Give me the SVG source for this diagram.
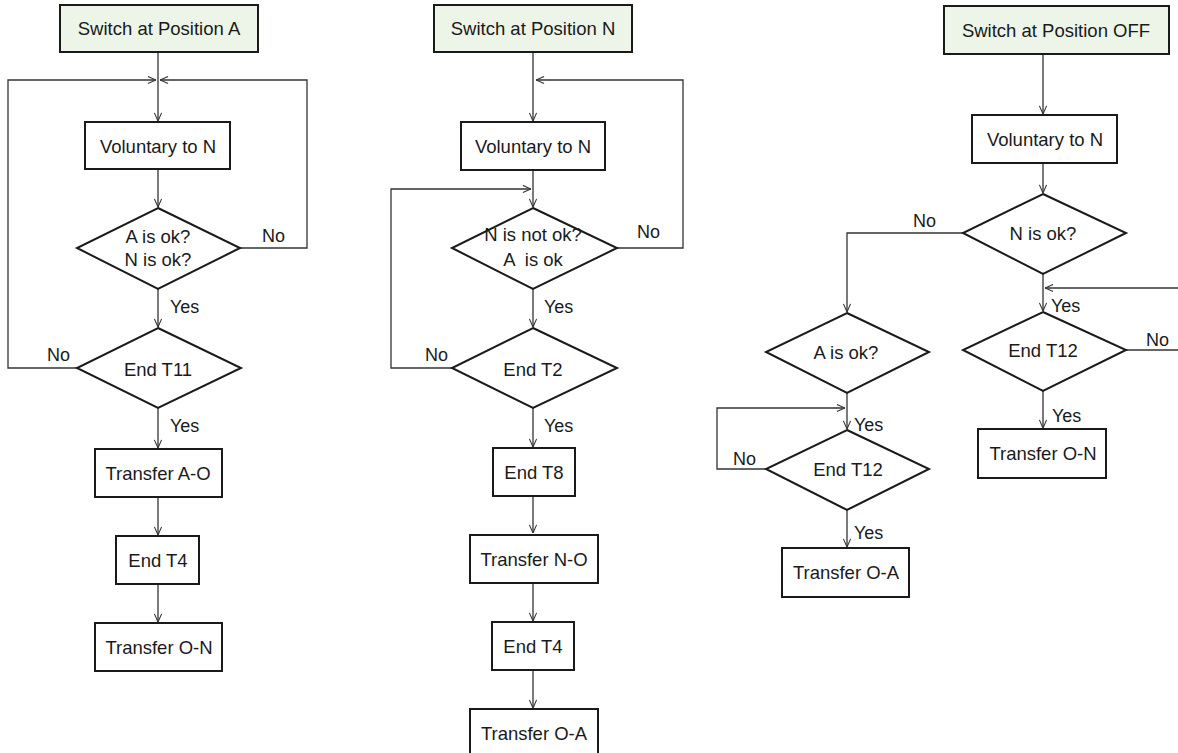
<svg xmlns="http://www.w3.org/2000/svg" width="1178" height="753" viewBox="0 0 1178 753">
<style>
.box{fill:#fff;stroke:#1a1a1a;stroke-width:2}
.start{fill:#edf5e8;stroke:#1a1a1a;stroke-width:2}
.dia{fill:#fff;stroke:#1a1a1a;stroke-width:2}
.t{font-family:"Liberation Sans",Arial,sans-serif;font-size:18.5px;fill:#1a1a1a;text-anchor:middle}
.l{font-family:"Liberation Sans",Arial,sans-serif;font-size:18px;fill:#1a1a1a}
.c{fill:none;stroke:#333;stroke-width:1.3}
</style>
<defs>
<marker id="arr" viewBox="0 0 10 10" refX="10" refY="5" markerWidth="9" markerHeight="9" markerUnits="userSpaceOnUse" orient="auto">
<path d="M1,1 L10,5 L1,9" fill="none" stroke="#333" stroke-width="1.2"/>
</marker>
</defs>
<rect width="1178" height="753" fill="#fff"/>
<g id="connectors">
<!-- column A -->
<path class="c" d="M158,52 V121" marker-end="url(#arr)"/>
<path class="c" d="M158,169 V207" marker-end="url(#arr)"/>
<path class="c" d="M158,289 V327" marker-end="url(#arr)"/>
<path class="c" d="M158,408 V448" marker-end="url(#arr)"/>
<path class="c" d="M158,497 V535" marker-end="url(#arr)"/>
<path class="c" d="M158,584 V622" marker-end="url(#arr)"/>
<path class="c" d="M240,248 H307 V80 H160" marker-end="url(#arr)"/>
<path class="c" d="M77,368 H8 V80 H156" marker-end="url(#arr)"/>
<!-- column N -->
<path class="c" d="M533,52 V121" marker-end="url(#arr)"/>
<path class="c" d="M533,170 V207" marker-end="url(#arr)"/>
<path class="c" d="M533,289 V327" marker-end="url(#arr)"/>
<path class="c" d="M533,408 V447" marker-end="url(#arr)"/>
<path class="c" d="M533,496 V533" marker-end="url(#arr)"/>
<path class="c" d="M533,583 V621" marker-end="url(#arr)"/>
<path class="c" d="M533,670 V708" marker-end="url(#arr)"/>
<path class="c" d="M617,248 H683 V80 H536" marker-end="url(#arr)"/>
<path class="c" d="M452,368 H391 V189 H531" marker-end="url(#arr)"/>
<!-- column OFF -->
<path class="c" d="M1043,54 V114" marker-end="url(#arr)"/>
<path class="c" d="M1043,163 V193" marker-end="url(#arr)"/>
<path class="c" d="M963,233 H847 V312" marker-end="url(#arr)"/>
<path class="c" d="M847,393 V429" marker-end="url(#arr)"/>
<path class="c" d="M766,469 H717 V408 H845" marker-end="url(#arr)"/>
<path class="c" d="M847,510 V547" marker-end="url(#arr)"/>
<path class="c" d="M1043,274 V311" marker-end="url(#arr)"/>
<path class="c" d="M1180,288 H1045" marker-end="url(#arr)"/>
<path class="c" d="M1126,350 H1180"/>
<path class="c" d="M1043,391 V428" marker-end="url(#arr)"/>
</g>
<g id="labels">
<text class="l" x="262" y="242">No</text>
<text class="l" x="170" y="313">Yes</text>
<text class="l" x="47" y="361">No</text>
<text class="l" x="170" y="432">Yes</text>
<text class="l" x="637" y="238">No</text>
<text class="l" x="544" y="313">Yes</text>
<text class="l" x="425" y="361">No</text>
<text class="l" x="544" y="432">Yes</text>
<text class="l" x="913" y="227">No</text>
<text class="l" x="1051" y="312">Yes</text>
<text class="l" x="1146" y="346">No</text>
<text class="l" x="1052" y="422">Yes</text>
<text class="l" x="854" y="431">Yes</text>
<text class="l" x="733" y="465">No</text>
<text class="l" x="854" y="539">Yes</text>
</g>
<!-- Column A nodes -->
<g id="startA"><rect class="start" x="60" y="5" width="198" height="47"/><text class="t" x="159" y="35">Switch at Position A</text></g>
<g id="volA"><rect class="box" x="85" y="122" width="145" height="47"/><text class="t" x="158" y="153">Voluntary to N</text></g>
<g id="decA1"><polygon class="dia" points="158,208 240,248 158,289 77,248"/><text class="t" x="158" y="243">A is ok?</text><text class="t" x="158" y="266">N is ok?</text></g>
<g id="decA2"><polygon class="dia" points="158,328 241,368 158,408 77,368"/><text class="t" x="158" y="376">End T11</text></g>
<g id="transAO"><rect class="box" x="95" y="449" width="127" height="48"/><text class="t" x="158" y="480">Transfer A-O</text></g>
<g id="endT4A"><rect class="box" x="116" y="536" width="83" height="48"/><text class="t" x="158" y="567">End T4</text></g>
<g id="transON1"><rect class="box" x="95" y="623" width="127" height="48"/><text class="t" x="159" y="654">Transfer O-N</text></g>
<!-- Column N nodes -->
<g id="startN"><rect class="start" x="434" y="5" width="198" height="47"/><text class="t" x="533" y="35">Switch at Position N</text></g>
<g id="volN"><rect class="box" x="461" y="122" width="144" height="48"/><text class="t" x="533" y="153">Voluntary to N</text></g>
<g id="decN1"><polygon class="dia" points="533,208 617,248 533,289 452,248"/><text class="t" x="533" y="241">N is not ok?</text><text class="t" x="533" y="266" xml:space="preserve">A  is ok</text></g>
<g id="decN2"><polygon class="dia" points="533,328 617,368 533,408 452,368"/><text class="t" x="533" y="376">End T2</text></g>
<g id="endT8"><rect class="box" x="493" y="448" width="82" height="48"/><text class="t" x="534" y="479">End T8</text></g>
<g id="transNO"><rect class="box" x="470" y="535" width="128" height="48"/><text class="t" x="534" y="566">Transfer N-O</text></g>
<g id="endT4N"><rect class="box" x="492" y="622" width="82" height="48"/><text class="t" x="533" y="653">End T4</text></g>
<g id="transOA1"><rect class="box" x="470" y="709" width="128" height="50"/><text class="t" x="534" y="740">Transfer O-A</text></g>
<!-- Column OFF nodes -->
<g id="startOFF"><rect class="start" x="944" y="6" width="225" height="48"/><text class="t" x="1056" y="37">Switch at Position OFF</text></g>
<g id="volOFF"><rect class="box" x="972" y="115" width="145" height="48"/><text class="t" x="1045" y="146">Voluntary to N</text></g>
<g id="decNok"><polygon class="dia" points="1043,194 1126,233 1043,274 963,233"/><text class="t" x="1043" y="240">N is ok?</text></g>
<g id="decAok"><polygon class="dia" points="847,313 929,352 847,393 766,352"/><text class="t" x="846" y="359">A is ok?</text></g>
<g id="endT12L"><polygon class="dia" points="847,430 929,469 847,510 766,469"/><text class="t" x="848" y="476">End T12</text></g>
<g id="transOA2"><rect class="box" x="782" y="548" width="127" height="49"/><text class="t" x="846" y="579">Transfer O-A</text></g>
<g id="endT12R"><polygon class="dia" points="1043,312 1126,350 1043,391 963,350"/><text class="t" x="1043" y="357">End T12</text></g>
<g id="transON2"><rect class="box" x="978" y="429" width="128" height="49"/><text class="t" x="1043" y="460">Transfer O-N</text></g>
</svg>
